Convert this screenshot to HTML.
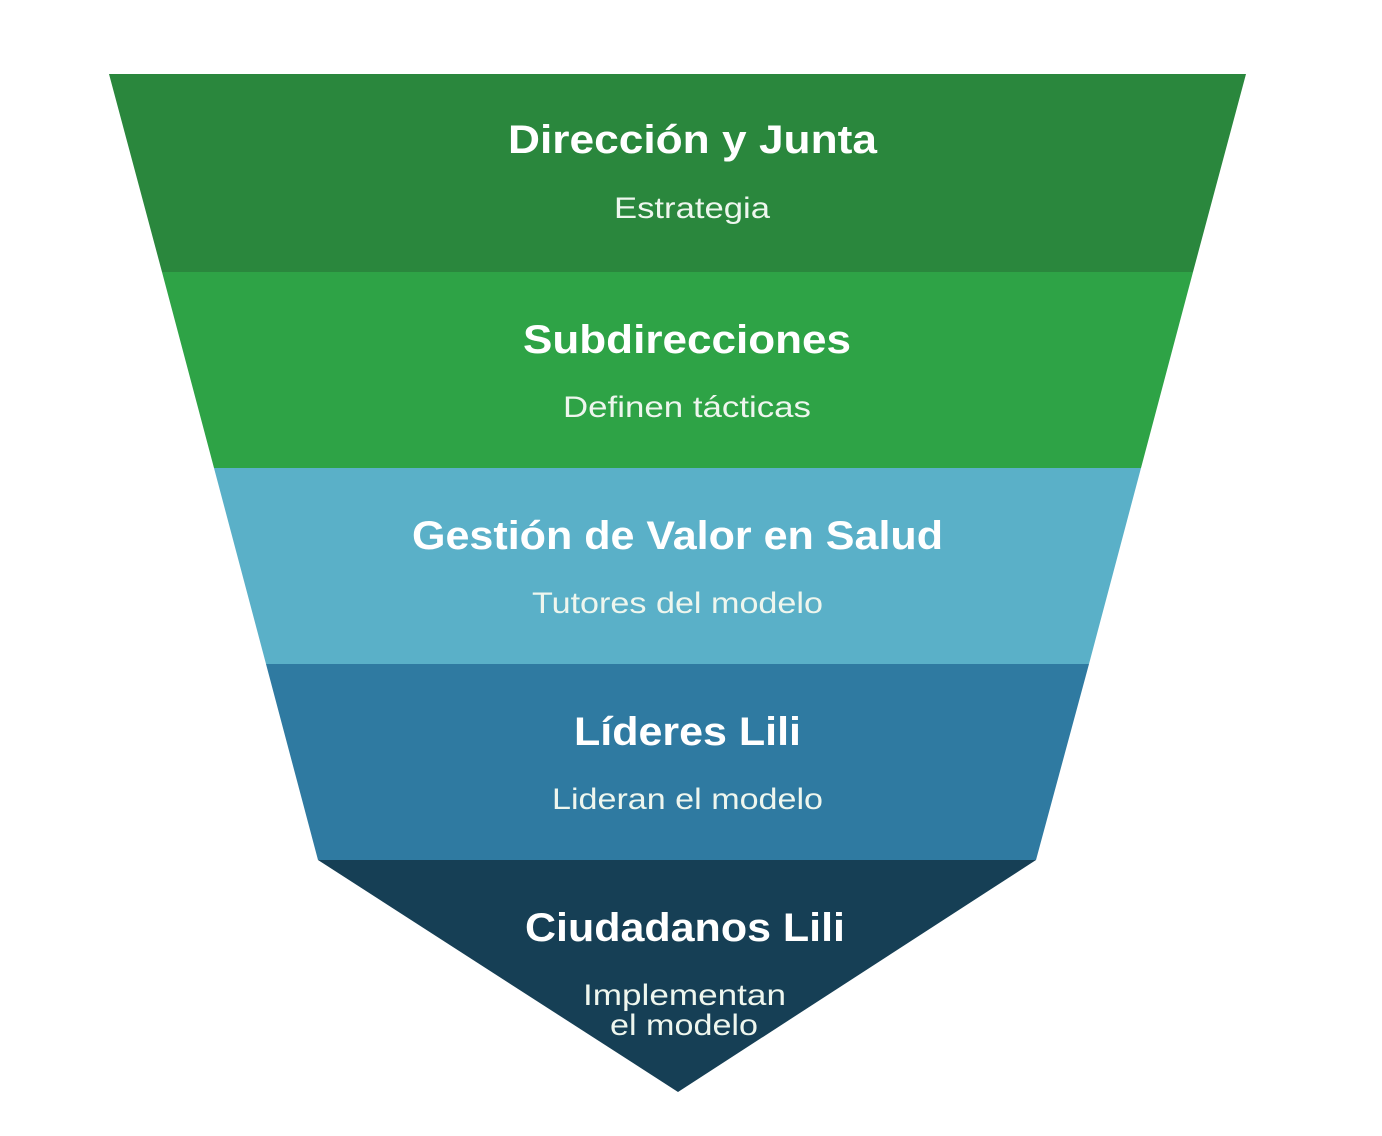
<!DOCTYPE html>
<html><head><meta charset="utf-8"><style>
html,body{margin:0;padding:0;background:#fff;}
svg{display:block;}
.t{font-family:"Liberation Sans",sans-serif;font-weight:bold;font-size:40px;fill:#fff;}
.s{font-family:"Liberation Sans",sans-serif;font-size:30px;fill:#eef6ee;}
</style></head><body>
<svg width="1382" height="1136" viewBox="0 0 1382 1136">
<rect width="1382" height="1136" fill="#fff"/>
<polygon points="109,74 1246,74 1193,272 162,272" fill="#2a873d"/>
<polygon points="162,272 1193,272 1141,468 214,468" fill="#2ea346"/>
<polygon points="214,468 1141,468 1089,664 266,664" fill="#5ab0c8"/>
<polygon points="266,664 1089,664 1036,860 318,860" fill="#2f7aa1"/>
<polygon points="318,860 1036,860 678,1092" fill="#163f55"/>
<text class="t" x="508" y="153" textLength="369" lengthAdjust="spacingAndGlyphs">Dirección y Junta</text>
<text class="s" x="614" y="218" textLength="156" lengthAdjust="spacingAndGlyphs">Estrategia</text>
<text class="t" x="523" y="353" textLength="328" lengthAdjust="spacingAndGlyphs">Subdirecciones</text>
<text class="s" x="563" y="417" textLength="248" lengthAdjust="spacingAndGlyphs">Definen tácticas</text>
<text class="t" x="412" y="549" textLength="531" lengthAdjust="spacingAndGlyphs">Gestión de Valor en Salud</text>
<text class="s" x="532" y="613" textLength="291" lengthAdjust="spacingAndGlyphs">Tutores del modelo</text>
<text class="t" x="574" y="745" textLength="227" lengthAdjust="spacingAndGlyphs">Líderes Lili</text>
<text class="s" x="552" y="809" textLength="271" lengthAdjust="spacingAndGlyphs">Lideran el modelo</text>
<text class="t" x="525" y="941" textLength="320" lengthAdjust="spacingAndGlyphs">Ciudadanos Lili</text>
<text class="s" x="583" y="1005" textLength="203" lengthAdjust="spacingAndGlyphs">Implementan</text>
<text class="s" x="610" y="1035" textLength="148" lengthAdjust="spacingAndGlyphs">el modelo</text>
</svg>
</body></html>
